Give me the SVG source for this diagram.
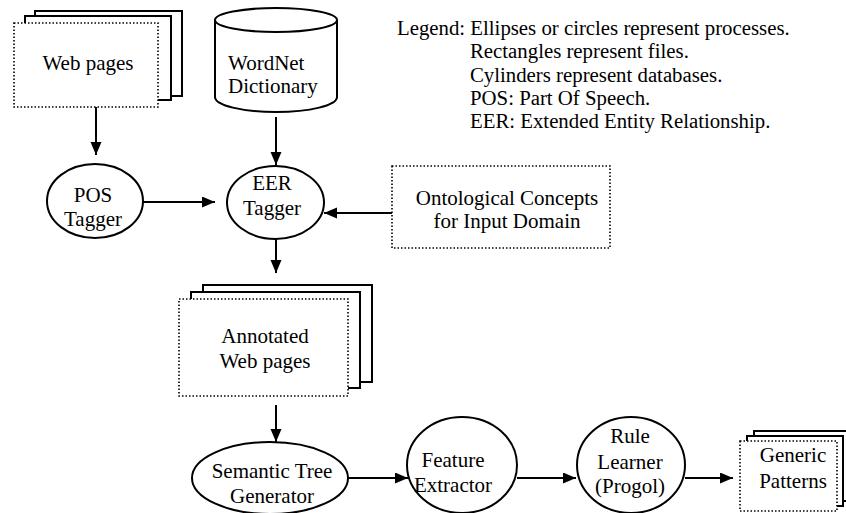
<svg xmlns="http://www.w3.org/2000/svg" width="846" height="513" viewBox="0 0 846 513">
<style>
text{font-family:"Liberation Serif","Times New Roman",serif;font-size:21px;fill:#000}
.n{text-anchor:middle}
.leg{font-size:20.8px}
.s{fill:#fff;stroke:#000;stroke-width:2}
.d{fill:#fff;stroke:#000;stroke-width:1.6;stroke-dasharray:1.5 2}
.c{fill:none;stroke:#000;stroke-width:2}
</style>
<defs>
<marker id="ah" markerUnits="userSpaceOnUse" markerWidth="14" markerHeight="12" refX="13" refY="5.5" orient="auto">
<path d="M0,0 L13,5.5 L0,11 Z" fill="#000"/>
</marker>
</defs>
<rect width="846" height="513" fill="#fff"/>
<g id="legend">
<text class="leg" x="397" y="35">Legend: Ellipses or circles represent processes.</text>
<text class="leg" x="470" y="58">Rectangles represent files.</text>
<text class="leg" x="470" y="82">Cylinders represent databases.</text>
<text class="leg" x="470" y="105">POS: Part Of Speech.</text>
<text class="leg" x="470" y="128">EER: Extended Entity Relationship.</text>
</g>
<g id="connectors">
<line class="c" x1="96" y1="107" x2="96" y2="155" marker-end="url(#ah)"/>
<line class="c" x1="276" y1="117" x2="276" y2="165" marker-end="url(#ah)"/>
<line class="c" x1="143" y1="202" x2="215" y2="202" marker-end="url(#ah)"/>
<line class="c" x1="392" y1="213" x2="324" y2="213" marker-end="url(#ah)"/>
<line class="c" x1="276" y1="239" x2="276" y2="273" marker-end="url(#ah)"/>
<line class="c" x1="276" y1="405" x2="276" y2="442" marker-end="url(#ah)"/>
<line class="c" x1="348" y1="478" x2="408" y2="478" marker-end="url(#ah)"/>
<line class="c" x1="517" y1="478" x2="576" y2="478" marker-end="url(#ah)"/>
<line class="c" x1="685" y1="478" x2="733" y2="478" marker-end="url(#ah)"/>
</g>
<g id="web-pages">
<rect class="s" x="35" y="11" width="147" height="85"/>
<rect class="s" x="25" y="16" width="146" height="84"/>
<rect class="d" x="14" y="23" width="144" height="84"/>
<text class="n" x="88" y="70">Web pages</text>
</g>
<g id="wordnet">
<path class="s" d="M215,20 L215,97 A61,15 0 0 0 337,97 L337,20"/>
<ellipse class="s" cx="276" cy="20" rx="61" ry="12"/>
<text x="228" y="70">WordNet</text>
<text x="228" y="93">Dictionary</text>
</g>
<g id="pos-tagger">
<ellipse class="s" cx="95" cy="201" rx="48" ry="37"/>
<text class="n" x="93" y="202">POS</text>
<text class="n" x="93" y="226">Tagger</text>
</g>
<g id="eer-tagger">
<ellipse class="s" cx="275.5" cy="202.5" rx="48.5" ry="36.5"/>
<text class="n" x="272" y="190">EER</text>
<text class="n" x="272" y="215">Tagger</text>
</g>
<g id="ontological">
<rect class="d" x="392" y="166" width="218" height="82"/>
<text class="n" x="507" y="205">Ontological Concepts</text>
<text class="n" x="507" y="228">for Input Domain</text>
</g>
<g id="annotated">
<rect class="s" x="203" y="285" width="169" height="97"/>
<rect class="s" x="191" y="292" width="169" height="96"/>
<rect class="d" x="179" y="299" width="169" height="97"/>
<text class="n" x="265" y="343">Annotated</text>
<text class="n" x="265" y="368">Web pages</text>
</g>
<g id="semantic-tree">
<ellipse class="s" cx="270" cy="478" rx="78" ry="36"/>
<text class="n" x="272" y="478">Semantic Tree</text>
<text class="n" x="272" y="503">Generator</text>
</g>
<g id="feature-extractor">
<ellipse class="s" cx="462" cy="465" rx="55" ry="48"/>
<text class="n" x="453" y="467">Feature</text>
<text class="n" x="453" y="492">Extractor</text>
</g>
<g id="rule-learner">
<ellipse class="s" cx="631" cy="465" rx="54" ry="48"/>
<text class="n" x="630" y="443">Rule</text>
<text class="n" x="630" y="469">Learner</text>
<text class="n" x="630" y="493">(Progol)</text>
</g>
<g id="generic-patterns">
<rect class="s" x="754" y="431" width="97" height="70"/>
<rect class="s" x="747" y="436" width="96" height="70"/>
<rect class="d" x="740" y="441" width="97" height="70"/>
<text class="n" x="793" y="462">Generic</text>
<text class="n" x="793" y="488">Patterns</text>
</g>
</svg>
